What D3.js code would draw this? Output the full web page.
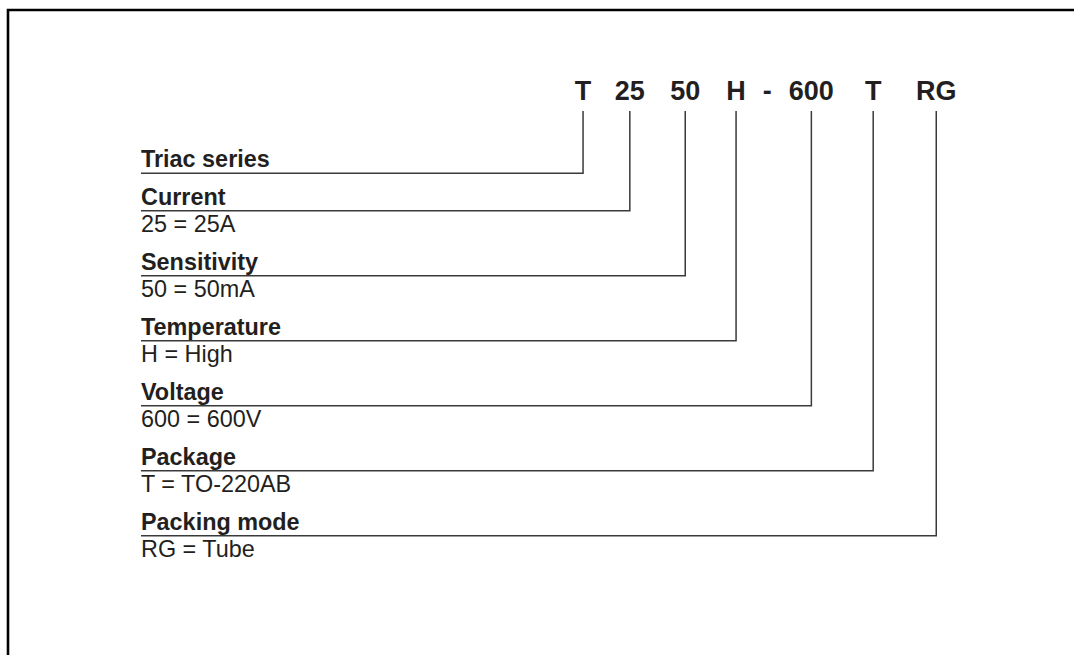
<!DOCTYPE html>
<html>
<head>
<meta charset="utf-8">
<script src="https://cdn.jsdelivr.net/npm/d3@7"></script>
<style>
  html, body { margin: 0; padding: 0; background: #ffffff; }
  svg { display: block; }
</style>
</head>
<body>
<script>
// ---------------- data ----------------
const codeParts   = ["T", "25", "50", "H", "-", "600", "T", "RG"];
const fieldNames  = ["Triac series", "Current", "Sensitivity", "Temperature", "Voltage", "Package", "Packing mode"];
const fieldValues = ["", "25 = 25A", "50 = 50mA", "H = High", "600 = 600V", "T = TO-220AB", "RG = Tube"];
const fieldPart   = [0, 1, 2, 3, 5, 6, 7];   // index of the code part each field points to

// ---------------- layout / style ----------------
const W = 1074, H = 655;
const fontFamily = "'Liberation Sans', Arial, Helvetica, sans-serif";
const ink = "#231f20";
const lineColor = "#3a3a3a";
const codeFont = 27;
const labelFont = 23.4;
const codeStartX = 574.8;
const codeBaseline = 99.5;
const codeGapEm = [0, 0.87, 0.94, 0.965, 0.63, 0.63, 1.15, 1.28];
const tickTop = 111;
const leftX = 141;
const firstLineY = 173.3;
const labelBlock = 37.4;
const valueBlock = 27.6;

const svg = d3.select("body").append("svg")
  .attr("width", W).attr("height", H)
  .attr("viewBox", `0 0 ${W} ${H}`);

svg.append("rect").attr("width", W).attr("height", H).attr("fill", "#fff");

// frame (top and left edge of the page box)
svg.append("path")
  .attr("d", d3.line()([[8, H + 5], [8, 10], [W + 5, 10]]))
  .attr("fill", "none").attr("stroke", "#000").attr("stroke-width", 2.6);

// ---------------- code line ----------------
const codeTexts = svg.append("g").selectAll("text").data(codeParts).join("text")
  .attr("y", codeBaseline)
  .attr("font-family", fontFamily)
  .attr("font-weight", "bold")
  .attr("font-size", codeFont)
  .attr("fill", ink)
  .text(d => d);

// sequential layout from measured widths
const partCenters = [];
let cursor = codeStartX;
codeTexts.each(function (d, i) {
  cursor += codeGapEm[i] * codeFont;
  const w = this.getComputedTextLength();
  d3.select(this).attr("x", cursor);
  partCenters.push(cursor + w / 2);
  cursor += w;
});

// ---------------- field rows ----------------
const rowLineY = [];
let y = firstLineY;
fieldNames.forEach((n, i) => {
  rowLineY.push(y);
  y += labelBlock + (fieldValues[i] ? valueBlock : 0);
});

const rows = svg.append("g").selectAll("g")
  .data(fieldNames.map((name, i) => ({ name, value: fieldValues[i], part: fieldPart[i], y: rowLineY[i] })))
  .join("g");

rows.append("path")
  .attr("d", d => d3.line()([[leftX, d.y], [partCenters[d.part], d.y], [partCenters[d.part], tickTop]]))
  .attr("fill", "none")
  .attr("stroke", lineColor)
  .attr("stroke-width", 1.5);

rows.append("text")
  .attr("x", leftX)
  .attr("y", d => d.y - 6)
  .attr("font-family", fontFamily)
  .attr("font-weight", "bold")
  .attr("font-size", labelFont)
  .attr("fill", ink)
  .text(d => d.name);

rows.filter(d => d.value !== "").append("text")
  .attr("x", leftX)
  .attr("y", d => d.y + 21.5)
  .attr("font-family", fontFamily)
  .attr("font-size", labelFont)
  .attr("fill", ink)
  .text(d => d.value);
</script>
</body>
</html>
